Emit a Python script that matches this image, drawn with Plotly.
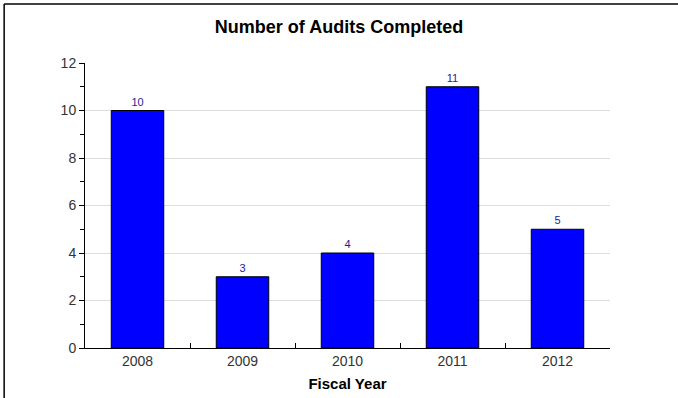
import plotly.graph_objects as go

fiscal_years = ["2008", "2009", "2010", "2011", "2012"]
audits_completed = [10, 3, 4, 11, 5]
y_ticks = [0, 2, 4, 6, 8, 10, 12]

FONT = "Liberation Sans, Arial, sans-serif"

fig = go.Figure(
    go.Bar(
        x=fiscal_years,
        y=audits_completed,
        width=0.5,
        marker=dict(color="#0000ff", line=dict(color="#000000", width=1)),
        text=audits_completed,
        textposition="outside",
        textfont=dict(family=FONT, size=11, color="#22229a"),
        cliponaxis=False,
    )
)

fig.update_layout(
    width=678,
    height=398,
    margin=dict(l=85, r=68, t=63, b=50),
    paper_bgcolor="white",
    plot_bgcolor="white",
    showlegend=False,
    font=dict(family=FONT, color="#222222"),
    title=dict(
        text="<b>Number of Audits Completed</b>",
        x=0.5,
        xanchor="center",
        y=0.933,
        yanchor="middle",
        font=dict(family=FONT, size=18, color="#000000"),
    ),
    xaxis=dict(
        type="category",
        automargin=False,
        title=dict(text="<b>Fiscal Year</b>", font=dict(family=FONT, size=15, color="#000000"), standoff=10),
        tickfont=dict(family=FONT, size=14, color="#333333"),
        showline=True,
        linecolor="#000000",
        linewidth=1,
        ticks="inside",
        tickson="boundaries",
        ticklen=5,
        tickcolor="#000000",
        showgrid=False,
        zeroline=False,
    ),
    yaxis=dict(
        range=[0, 12],
        automargin=False,
        tickvals=y_ticks,
        tickfont=dict(family=FONT, size=14, color="#333333"),
        showline=True,
        linecolor="#000000",
        linewidth=1,
        ticks="outside",
        ticklen=5,
        tickcolor="#000000",
        showgrid=True,
        gridcolor="#dddddd",
        gridwidth=1,
        zeroline=False,
        minor=dict(dtick=1, ticks="outside", ticklen=4, tickcolor="#000000", showgrid=False),
    ),
    shapes=[
        # frame lines along the top and left edges of the figure
        dict(type="line", xref="paper", yref="paper", x0=-0.154, x1=1.2, y0=1.207, y1=1.207,
             line=dict(color="#000000", width=1.5)),
        dict(type="line", xref="paper", yref="paper", x0=-0.154, x1=-0.154, y0=1.207, y1=-0.2,
             line=dict(color="#000000", width=1.5)),
    ],
)

fig.write_html("out.html")
